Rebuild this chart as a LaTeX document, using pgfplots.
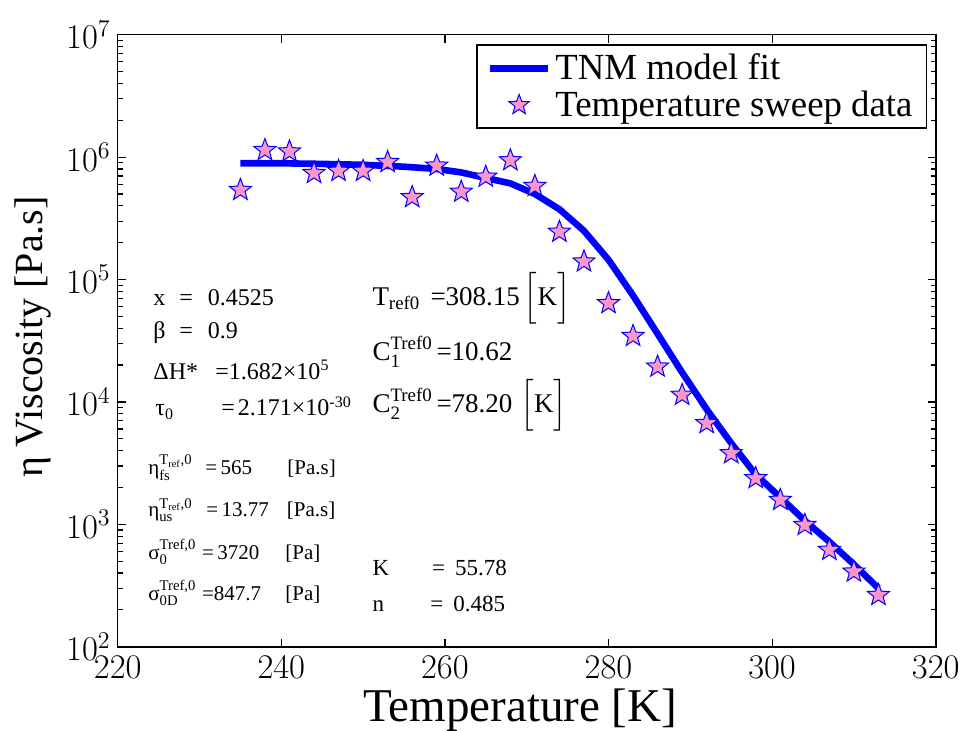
\documentclass[border=0pt]{standalone}
\usepackage{fontspec}
\setmainfont{Liberation Serif}
\usepackage{amsmath}
\usepackage{pgfplots}
\pgfplotsset{compat=1.18}
\usetikzlibrary{calc}
\definecolor{starpink}{RGB}{250,150,200}
\pgfdeclareplotmark{fivestar}{%
\pgfpathmoveto{\pgfpointpolar{90}{\pgfplotmarksize}}%
\pgfpathlineto{\pgfpointpolar{126}{0.42\pgfplotmarksize}}%
\pgfpathlineto{\pgfpointpolar{162}{\pgfplotmarksize}}%
\pgfpathlineto{\pgfpointpolar{198}{0.42\pgfplotmarksize}}%
\pgfpathlineto{\pgfpointpolar{234}{\pgfplotmarksize}}%
\pgfpathlineto{\pgfpointpolar{270}{0.42\pgfplotmarksize}}%
\pgfpathlineto{\pgfpointpolar{306}{\pgfplotmarksize}}%
\pgfpathlineto{\pgfpointpolar{342}{0.42\pgfplotmarksize}}%
\pgfpathlineto{\pgfpointpolar{18}{\pgfplotmarksize}}%
\pgfpathlineto{\pgfpointpolar{54}{0.42\pgfplotmarksize}}%
\pgfpathclose
\pgfusepathqfillstroke}
\pgfplotsset{
  lineleg/.style={legend image code/.code={\draw[##1] (0pt,0pt) -- (29pt,0pt);}},
  starleg/.style={legend image code/.code={\draw[mark repeat=2,mark phase=2,mark size=5.3pt,##1] plot coordinates {(0pt,0pt) (14.5pt,0pt) (29pt,0pt)};}},
}
\begin{document}
\begin{tikzpicture}
\begin{axis}[
  scale only axis, width=409pt, height=306pt,
  xmin=220, xmax=320, ymin=1e2, ymax=1e7, ymode=log,
  xtick={220,240,...,320},
  tick align=inside,
  major tick length=4pt, minor tick length=2.5pt,
  axis line style={line width=0.8pt},
  every tick/.style={black, line width=0.6pt},
  x tick label style={font=\fontsize{19}{19}\selectfont, yshift=-1pt},
  y tick label style={font=\fontsize{16.5}{16.5}\selectfont},
  xlabel={Temperature [K]},
  ylabel={η Viscosity [Pa.s]},
  xlabel style={font=\fontsize{23.5}{23.5}\selectfont, at={(axis description cs:0.492,-0.104)}, anchor=center},
  ylabel style={font=\fontsize{20}{20}\selectfont, at={(axis description cs:-0.1035,0.506)}, anchor=center},
  legend style={at={(rel axis cs:0.9897,0.9848)}, anchor=north east, draw=black, line width=0.8pt,
    font=\fontsize{18.4}{22}\selectfont, inner xsep=5pt, inner ysep=2.5pt},
  legend cell align=left,
]
\coordinate (SW) at (rel axis cs:0,0);
\coordinate (NE) at (rel axis cs:1,1);
\addplot[blue, line width=3.3pt, line join=round, lineleg] coordinates {
(235,8.9e5) (240,8.9e5) (245,8.8e5) (250,8.65e5) (255,8.35e5) (259,8.0e5)
(262,7.5e5) (265,6.75e5) (268,6.1e5) (271,5.0e5) (274,3.75e5) (277,2.5e5)
(280,1.45e5) (283,7.4e4) (286,3.6e4) (289,1.74e4) (292,8.7e3) (295,4.6e3)
(298,2.55e3) (301,1.66e3) (304,1.07e3) (307,7.2e2) (310,4.7e2) (313,3.0e2)
};
\addlegendentry{TNM model fit}
\addplot[only marks, mark=fivestar, mark size=5.8pt,
  mark options={draw=blue, fill=starpink, line width=0.5pt}, starleg] coordinates {
(235,5.38e5) (238,1.14e6) (241,1.11e6) (244,7.4e5) (247,7.7e5) (250,7.7e5)
(253,9.1e5) (256,4.7e5) (259,8.5e5) (262,5.2e5) (265,6.9e5) (268,9.4e5)
(271,5.8e5) (274,2.45e5) (277,1.40e5) (280,6.4e4) (283,3.45e4) (286,1.94e4)
(289,1.14e4) (292,6.7e3) (295,3.8e3) (298,2.38e3) (301,1.58e3) (304,986)
(307,617) (310,410) (313,264)
};
\addlegendentry{Temperature sweep data}
% annotations: left column
\node[anchor=west, inner sep=0pt, font=\fontsize{12}{12}\selectfont] at (rel axis cs:0.0432,0.5698) {\makebox[13pt][l]{x}=\hspace{7.5pt}0.4525};
\node[anchor=west, inner sep=0pt, font=\fontsize{12}{12}\selectfont] at (rel axis cs:0.0432,0.5126) {\makebox[13pt][l]{β}=\hspace{7.5pt}0.9};
\node[anchor=west, inner sep=0pt, font=\fontsize{12}{12}\selectfont] at (rel axis cs:0.0432,0.4521) {\makebox[31pt][l]{ΔH*}=1.682×10\textsuperscript{5}};
\node[anchor=west, inner sep=0pt, font=\fontsize{12}{12}\selectfont] at (rel axis cs:0.0456,0.3900) {\makebox[33pt][l]{τ\textsubscript{0}}=\hspace{1.5pt}2.171×10\textsuperscript{-30}};
% right column
\node[anchor=west, inner sep=0pt, font=\fontsize{13.5}{13.5}\selectfont] at (rel axis cs:0.311,0.5698) {\makebox[29pt][l]{T$_{\text{ref0}}$}=308.15\hspace{2pt}$\Bigl[$K$\Bigr]$};
\node[anchor=west, inner sep=0pt, font=\fontsize{13.5}{13.5}\selectfont] at (rel axis cs:0.311,0.4815) {\makebox[32pt][l]{C$^{\text{Tref0}}_{\text{1}}$}=10.62};
\node[anchor=west, inner sep=0pt, font=\fontsize{13.5}{13.5}\selectfont] at (rel axis cs:0.311,0.3949) {\makebox[32pt][l]{C$^{\text{Tref0}}_{\text{2}}$}=78.20\hspace{4pt}$\Bigl[$K$\Bigr]$};
% lower left
\node[anchor=west, inner sep=0pt, font=\fontsize{10.5}{10.5}\selectfont] at (rel axis cs:0.037,0.292) {\makebox[28.5pt][l]{η$^{\text{T\textsubscript{ref},0}}_{\text{fs}}$}\makebox[41pt][l]{=\,565}[Pa.s]};
\node[anchor=west, inner sep=0pt, font=\fontsize{10.5}{10.5}\selectfont] at (rel axis cs:0.037,0.2234) {\makebox[29pt][l]{η$^{\text{T\textsubscript{ref},0}}_{\text{us}}$}\makebox[40.3pt][l]{=\,13.77}[Pa.s]};
\node[anchor=west, inner sep=0pt, font=\fontsize{10.5}{10.5}\selectfont] at (rel axis cs:0.037,0.1547) {\makebox[26.85pt][l]{σ$^{\text{Tref,0}}_{\text{0}}$}\makebox[41.65pt][l]{=\,3720}[Pa]};
\node[anchor=west, inner sep=0pt, font=\fontsize{10.5}{10.5}\selectfont] at (rel axis cs:0.037,0.0877) {\makebox[26.85pt][l]{σ$^{\text{Tref,0}}_{\text{0D}}$}\makebox[41.65pt][l]{=847.7}[Pa]};
% K and n
\node[anchor=west, inner sep=0pt, font=\fontsize{11.5}{11.5}\selectfont] at (rel axis cs:0.311,0.1286) {\makebox[29.85pt][l]{K}=\hspace{5pt}55.78};
\node[anchor=west, inner sep=0pt, font=\fontsize{11.5}{11.5}\selectfont] at (rel axis cs:0.311,0.0698) {\makebox[29pt][l]{n}=\hspace{5pt}0.485};
\end{axis}
\pgfresetboundingbox
\path[use as bounding box] ($(SW)+(-58.85pt,-41.65pt)$) rectangle ($(NE)+(14.15pt,17.35pt)$);
\end{tikzpicture}
\end{document}
